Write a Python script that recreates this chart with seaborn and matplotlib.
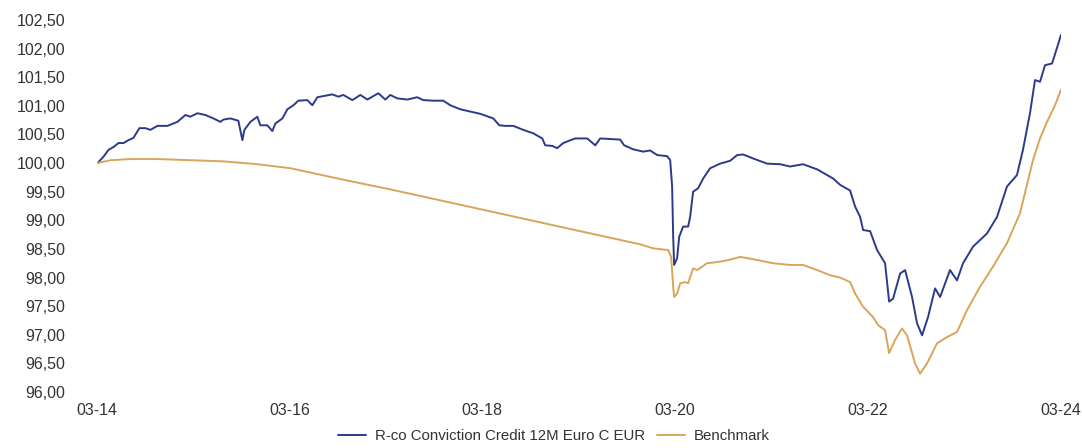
import numpy as np
import pandas as pd
import matplotlib
matplotlib.use("Agg")
import matplotlib.pyplot as plt
import matplotlib.dates as mdates
from matplotlib.ticker import FuncFormatter
import seaborn as sns

# ---- data (decimal years) ----
fund_years = [
    2014.167, 2014.229, 2014.281, 2014.333, 2014.385, 2014.437, 2014.488, 2014.540, 2014.602, 2014.665,
    2014.717, 2014.789, 2014.893, 2014.997, 2015.080, 2015.131, 2015.204, 2015.287, 2015.370, 2015.443,
    2015.474, 2015.546, 2015.629, 2015.671, 2015.692, 2015.754, 2015.826, 2015.857, 2015.930, 2015.982,
    2016.013, 2016.086, 2016.138, 2016.200, 2016.252, 2016.345, 2016.397, 2016.449, 2016.511, 2016.604,
    2016.667, 2016.719, 2016.812, 2016.895, 2016.968, 2017.082, 2017.154, 2017.206, 2017.279, 2017.383,
    2017.486, 2017.549, 2017.652, 2017.756, 2017.829, 2017.932, 2018.036, 2018.140, 2018.275, 2018.337,
    2018.399, 2018.482, 2018.586, 2018.690, 2018.783, 2018.814, 2018.887, 2018.938, 2019.001, 2019.125,
    2019.250, 2019.333, 2019.385, 2019.488, 2019.592, 2019.633, 2019.727, 2019.831, 2019.903, 2019.976,
    2020.080, 2020.111, 2020.131, 2020.142, 2020.152, 2020.183, 2020.204, 2020.245, 2020.297, 2020.318,
    2020.349, 2020.401, 2020.453, 2020.526, 2020.629, 2020.733, 2020.806, 2020.868, 2020.972, 2021.117,
    2021.252, 2021.355, 2021.490, 2021.636, 2021.739, 2021.802, 2021.874, 2021.978, 2022.030, 2022.082,
    2022.113, 2022.186, 2022.258, 2022.341, 2022.383, 2022.424, 2022.497, 2022.549, 2022.621, 2022.673,
    2022.725, 2022.787, 2022.860, 2022.912, 2023.015, 2023.088, 2023.150, 2023.254, 2023.399, 2023.503,
    2023.606, 2023.710, 2023.772, 2023.845, 2023.897, 2023.949, 2024.001, 2024.074, 2024.125, 2024.167,
]
fund_values = [
    100.00, 100.11, 100.23, 100.28, 100.35, 100.35, 100.40, 100.44, 100.61, 100.61,
    100.58, 100.65, 100.65, 100.72, 100.84, 100.81, 100.87, 100.84, 100.78, 100.72,
    100.76, 100.78, 100.74, 100.40, 100.58, 100.72, 100.81, 100.66, 100.66, 100.56,
    100.69, 100.78, 100.94, 101.01, 101.09, 101.10, 101.01, 101.15, 101.17, 101.20,
    101.16, 101.19, 101.10, 101.19, 101.11, 101.22, 101.11, 101.19, 101.13, 101.11,
    101.15, 101.10, 101.09, 101.09, 101.01, 100.94, 100.90, 100.86, 100.78, 100.66,
    100.65, 100.65, 100.58, 100.52, 100.43, 100.31, 100.30, 100.26, 100.35, 100.43,
    100.43, 100.31, 100.43, 100.42, 100.41, 100.31, 100.24, 100.20, 100.22, 100.14,
    100.12, 100.05, 99.59, 98.71, 98.22, 98.34, 98.71, 98.89, 98.89, 99.06,
    99.50, 99.56, 99.73, 99.91, 99.99, 100.04, 100.14, 100.15, 100.08, 99.99,
    99.98, 99.94, 99.98, 99.89, 99.79, 99.73, 99.62, 99.52, 99.24, 99.06,
    98.83, 98.81, 98.48, 98.25, 97.58, 97.63, 98.07, 98.13, 97.66, 97.20,
    96.99, 97.31, 97.81, 97.66, 98.13, 97.95, 98.25, 98.54, 98.77, 99.06,
    99.59, 99.79, 100.23, 100.87, 101.45, 101.42, 101.71, 101.74, 102.01, 102.24,
]

bench_years = [
    2014.167, 2014.302, 2014.509, 2014.789, 2015.131, 2015.474, 2015.826, 2016.169, 2016.688, 2017.206,
    2017.829, 2018.503, 2019.177, 2019.800, 2019.934, 2020.090, 2020.121, 2020.142, 2020.152, 2020.183,
    2020.215, 2020.266, 2020.297, 2020.349, 2020.391, 2020.494, 2020.598, 2020.702, 2020.837, 2020.972,
    2021.179, 2021.355, 2021.490, 2021.636, 2021.770, 2021.874, 2021.978, 2022.030, 2022.113, 2022.216,
    2022.268, 2022.341, 2022.383, 2022.445, 2022.517, 2022.569, 2022.652, 2022.704, 2022.777, 2022.880,
    2022.984, 2023.088, 2023.191, 2023.327, 2023.461, 2023.606, 2023.741, 2023.876, 2023.949, 2024.022,
    2024.105, 2024.167,
]
bench_values = [
    100.00, 100.05, 100.07, 100.07, 100.05, 100.03, 99.98, 99.91, 99.72, 99.54,
    99.31, 99.06, 98.81, 98.58, 98.51, 98.48, 98.36, 97.84, 97.66, 97.72,
    97.90, 97.92, 97.90, 98.16, 98.13, 98.25, 98.27, 98.30, 98.36, 98.32,
    98.25, 98.22, 98.22, 98.13, 98.04, 98.00, 97.92, 97.72, 97.49, 97.31,
    97.17, 97.08, 96.68, 96.91, 97.11, 96.99, 96.50, 96.32, 96.50, 96.85,
    96.96, 97.05, 97.43, 97.84, 98.19, 98.60, 99.12, 100.05, 100.43, 100.72,
    101.01, 101.28,
]

series_names = ["R-co Conviction Credit 12M Euro C EUR", "Benchmark"]
tick_dates = ["2014-03-01", "2016-03-01", "2018-03-01", "2020-03-01", "2022-03-01", "2024-03-01"]
y_ticks = [96.0, 96.5, 97.0, 97.5, 98.0, 98.5, 99.0, 99.5, 100.0, 100.5, 101.0, 101.5, 102.0, 102.5]


def to_dates(years):
    y = np.asarray(years, dtype=float)
    return pd.Timestamp("2014-01-01") + pd.to_timedelta((y - 2014.0) * 365.25, unit="D")


df = pd.concat([
    pd.DataFrame({"date": to_dates(fund_years), "value": fund_values, "series": series_names[0]}),
    pd.DataFrame({"date": to_dates(bench_years), "value": bench_values, "series": series_names[1]}),
], ignore_index=True)

sns.set_style("white")
plt.rcParams["font.family"] = ["Liberation Sans", "DejaVu Sans"]

fig = plt.figure(figsize=(10.82, 4.48), dpi=100)
ax = fig.add_axes([0.0896, 0.125, 0.8910, 0.8304])

palette = {series_names[0]: "#2b3b8a", series_names[1]: "#d9a55b"}
sns.lineplot(data=df, x="date", y="value", hue="series", palette=palette,
             linewidth=1.4, ax=ax, legend=True, sort=False)

ax.set_xlim(df["date"].min(), df["date"].max())
ax.set_ylim(96.0, 102.5)
ax.set_yticks(y_ticks)
ax.yaxis.set_major_formatter(FuncFormatter(lambda v, p: f"{v:.2f}".replace(".", ",")))
ax.set_xticks(pd.to_datetime(tick_dates))
ax.xaxis.set_major_formatter(mdates.DateFormatter("%m-%y"))

for s in ax.spines.values():
    s.set_visible(False)
ax.grid(False)
ax.tick_params(axis="both", length=0, labelsize=11.5, colors="#333333")
ax.tick_params(axis="y", pad=23)
ax.tick_params(axis="x", pad=8)
ax.set_xlabel("")
ax.set_ylabel("")

handles, labels = ax.get_legend_handles_labels()
ax.get_legend().remove()
fig.legend(handles, labels, loc="lower center", bbox_to_anchor=(0.512, -0.02), ncol=2,
           frameon=False, fontsize=10.8, handlelength=1.85, handletextpad=0.6,
           columnspacing=0.8, labelcolor="#333333")

fig.savefig("out.png", dpi=100)
